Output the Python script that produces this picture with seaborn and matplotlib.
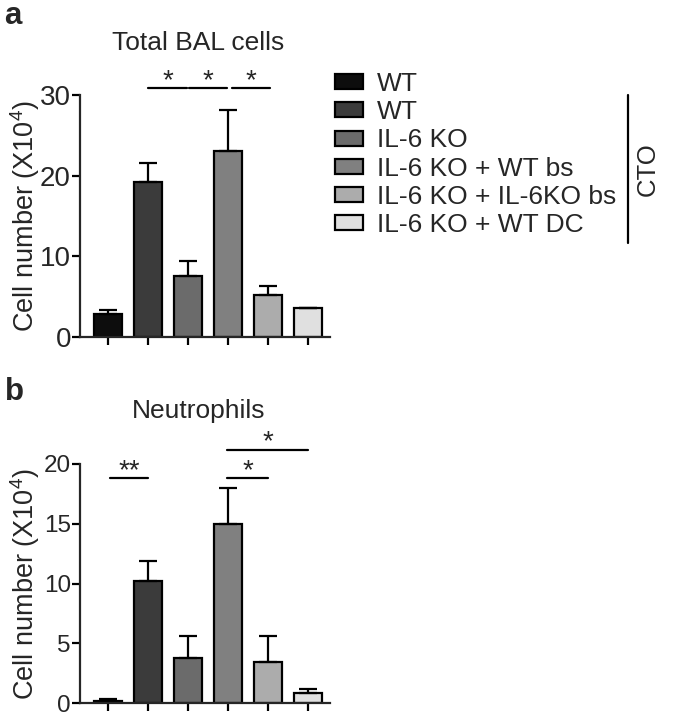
import numpy as np
import pandas as pd
import seaborn as sns
import matplotlib
matplotlib.use("Agg")
import matplotlib.pyplot as plt
from matplotlib.patches import Patch

# ---------------- data ----------------
categories = ["WT", "WT CTO", "IL-6 KO CTO", "IL-6 KO + WT bs CTO",
              "IL-6 KO + IL-6KO bs CTO", "IL-6 KO + WT DC CTO"]
legend_labels = ["WT", "WT", "IL-6 KO", "IL-6 KO + WT bs",
                 "IL-6 KO + IL-6KO bs", "IL-6 KO + WT DC"]
bal_mean = [2.8, 19.2, 7.6, 23.1, 5.2, 3.6]
bal_err = [0.6, 2.4, 1.85, 5.0, 1.1, 0.0]
neu_mean = [0.2, 10.2, 3.8, 15.0, 3.4, 0.8]
neu_err = [0.1, 1.7, 1.8, 3.0, 2.2, 0.35]
bar_colors = ["#0d0d0d", "#3b3b3b", "#6b6b6b", "#808080", "#acacac", "#e0e0e0"]

# significance annotations: (start index, end index, y value, label)
bal_sig = [(1.0, 1.97, 30.9, "*"), (2.03, 2.97, 30.9, "*"), (3.1, 4.05, 30.9, "*")]
neu_sig = [(0.05, 1.0, 18.8, "**"), (2.98, 4.0, 18.8, "*"), (2.98, 5.0, 21.2, "*")]

# ---------------- style ----------------
sns.set_style("ticks")
plt.rcParams["font.family"] = ["Liberation Sans", "DejaVu Sans"]
plt.rcParams["mathtext.fontset"] = "custom"
plt.rcParams["mathtext.rm"] = "Liberation Sans"
plt.rcParams["mathtext.default"] = "regular"

W, H = 675, 722
fig = plt.figure(figsize=(W / 100, H / 100), dpi=100)

def px_axes(left, right, top, bottom):
    return fig.add_axes([left / W, 1 - bottom / H, (right - left) / W, (bottom - top) / H])

ax_a = px_axes(80, 330, 95, 337)
ax_b = px_axes(80, 330, 464, 703)

def draw_panel(ax, means, errs, ymax, yticks, tick_fs, sigs):
    df = pd.DataFrame({"group": categories, "value": means})
    sns.barplot(data=df, x="group", y="value", hue="group", order=categories,
                hue_order=categories, palette=bar_colors, legend=False,
                errorbar=None, width=0.72, edgecolor="black", linewidth=1.6,
                saturation=1, ax=ax)
    xpos = np.arange(len(categories))
    ax.errorbar(xpos, means, yerr=[np.zeros(len(errs)), errs], fmt="none",
                ecolor="black", elinewidth=1.6, capsize=6.5, capthick=1.6, zorder=1)
    ax.set_xlim(-0.7, 5.55)
    ax.set_ylim(0, ymax)
    ax.set_yticks(yticks)
    ax.set_xticks(xpos)
    ax.set_xticklabels([])
    ax.set_xlabel("")
    ax.set_ylabel("Cell number (X10$^{4}$)", fontsize=19.5)
    ax.yaxis.set_label_coords(-0.15, 0.5)
    for s in ["top", "right"]:
        ax.spines[s].set_visible(False)
    for s in ["left", "bottom"]:
        ax.spines[s].set_linewidth(1.6)
    ax.tick_params(axis="both", length=5.5, width=1.6, color="black")
    ax.tick_params(axis="y", labelsize=tick_fs, pad=1)
    for x0, x1, yv, lab in sigs:
        ax.plot([x0, x1], [yv, yv], color="black", lw=1.6, clip_on=False)
        ax.text((x0 + x1) / 2, yv, lab, ha="center", va="baseline", fontsize=20)

draw_panel(ax_a, bal_mean, bal_err, 30, [0, 10, 20, 30], 20, bal_sig)
draw_panel(ax_b, neu_mean, neu_err, 20, [0, 5, 10, 15, 20], 17.5, neu_sig)

# titles and panel letters
fig.text(198 / W, 1 - 43 / H, "Total BAL cells", ha="center", va="center", fontsize=19)
fig.text(199 / W, 1 - 411 / H, "Neutrophils", ha="center", va="center", fontsize=19)
fig.text(4 / W, 1 - 24 / H, "a", ha="left", va="baseline", fontsize=22.5, fontweight="bold")
fig.text(5 / W, 1 - 400 / H, "b", ha="left", va="baseline", fontsize=22.5, fontweight="bold")

# legend
handles = [Patch(facecolor=c, edgecolor="black", linewidth=1.6) for c in bar_colors]
fig.legend(handles, legend_labels, loc="upper left",
           bbox_to_anchor=(335 / W, 1 - 72 / H), frameon=False, fontsize=19,
           borderpad=0, borderaxespad=0, labelspacing=0.16, handlelength=1.06,
           handleheight=0.5, handletextpad=0.53)

# CTO bracket
fig.add_artist(plt.Line2D([628 / W, 628 / W], [1 - 95 / H, 1 - 243 / H],
                          transform=fig.transFigure, color="black", lw=1.6))
fig.text(648 / W, 1 - 169 / H, "CTO", rotation=90, ha="center", va="center", fontsize=18.5)

fig.savefig("out.png", dpi=100)
